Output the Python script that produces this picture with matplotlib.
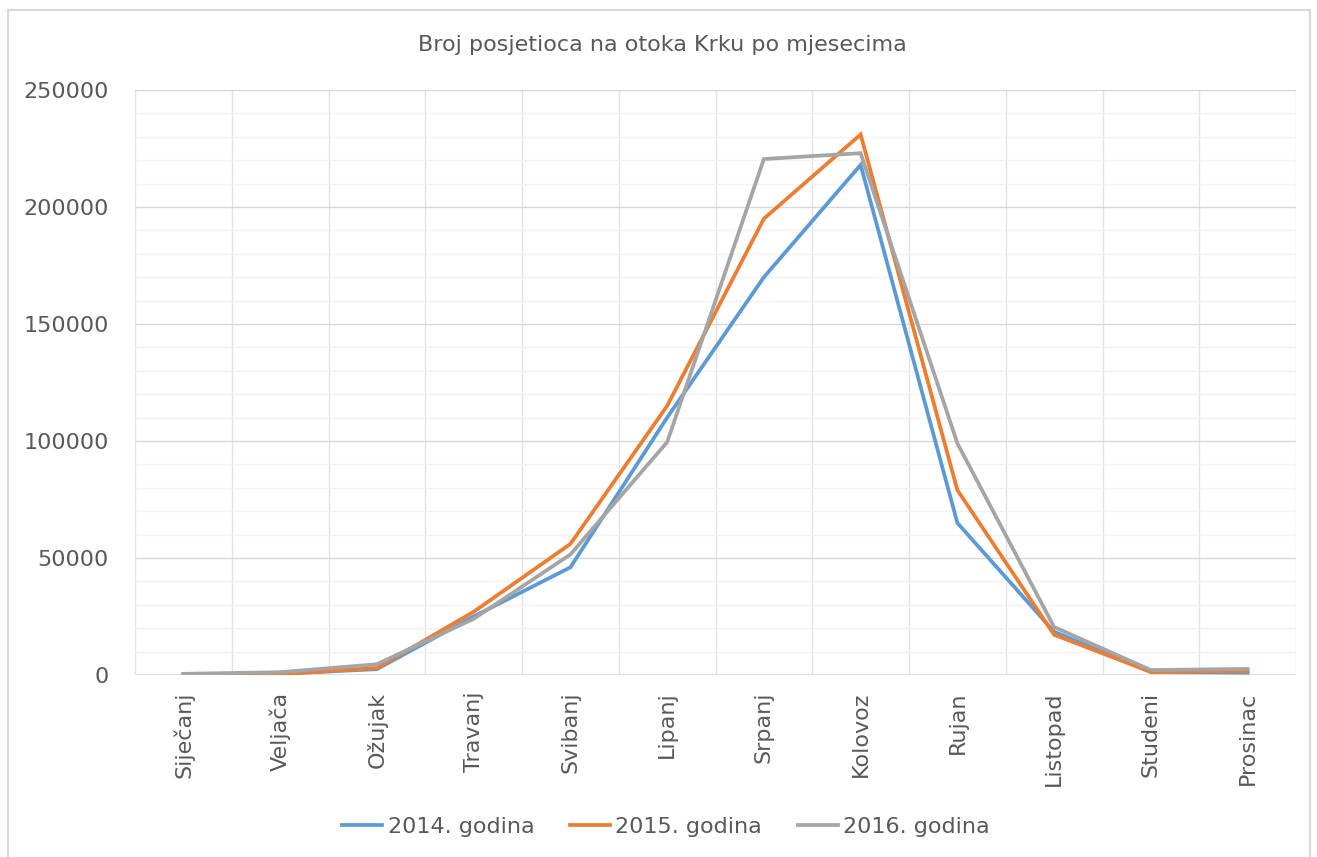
import numpy as np
import matplotlib.pyplot as plt
from matplotlib.patches import Rectangle
from matplotlib.ticker import MultipleLocator

months = ["Siječanj", "Veljača", "Ožujak", "Travanj", "Svibanj", "Lipanj",
          "Srpanj", "Kolovoz", "Rujan", "Listopad", "Studeni", "Prosinac"]
g2014 = [300, 500, 2500, 25000, 46000, 110000, 170000, 218000, 65000, 18500, 1300, 1000]
g2015 = [200, 400, 3000, 27000, 56000, 115000, 195000, 231000, 79000, 17200, 1300, 1700]
g2016 = [500, 1200, 4600, 24000, 51500, 99500, 220500, 223000, 99000, 20500, 2100, 2600]
series = ["2014. godina", "2015. godina", "2016. godina"]
colors = ["#5B9BD5", "#ED7D31", "#A5A5A5"]

txt = "#595959"
fig = plt.figure(figsize=(13.17, 8.57), dpi=100)
fig.patches.append(Rectangle((8/1317, -0.01), 1302/1317, 1 - 10/857 + 0.01,
                             transform=fig.transFigure, fill=False,
                             edgecolor="#D9D9D9", linewidth=1.5))
ax = fig.add_axes([135/1317, 1 - 675/857, (1296 - 135)/1317, (675 - 90)/857])

x = np.arange(len(months))
for vals, name, c in zip([g2014, g2015, g2016], series, colors):
    ax.plot(x, vals, color=c, linewidth=2.7, label=name, solid_joinstyle="miter")

ax.set_xlim(-0.5, 11.5)
ax.set_ylim(0, 250000)
ax.yaxis.set_major_locator(MultipleLocator(50000))
ax.yaxis.set_minor_locator(MultipleLocator(10000))
ax.grid(which="major", axis="y", color="#D9D9D9", linewidth=1)
ax.grid(which="minor", axis="y", color="#F2F2F2", linewidth=1)
for b in np.arange(-0.5, 12, 1):
    ax.axvline(b, color="#E3E3E3", linewidth=1, zorder=0)
ax.set_axisbelow(True)
for s in ax.spines.values():
    s.set_visible(False)
ax.axhline(0, color="#D9D9D9", linewidth=1.2, zorder=1)

ax.set_xticks(x)
ax.set_xticklabels(months, rotation=90, fontsize=16, color=txt)
ax.tick_params(axis="x", length=0, pad=12)
ax.tick_params(axis="y", which="both", length=0, pad=19, labelsize=16, labelcolor=txt)

fig.text(0.503, 1 - 45/857, "Broj posjetioca na otoka Krku po mjesecima",
         ha="center", va="center", fontsize=16, color=txt)

handles, labels = ax.get_legend_handles_labels()
fig.legend(handles, labels, loc="center", bbox_to_anchor=(666/1317, 1 - 827/857),
           ncol=3, frameon=False, fontsize=16, labelcolor=txt, handlelength=1.8,
           handletextpad=0.25, columnspacing=1.6)

fig.savefig("out.png", dpi=100)
